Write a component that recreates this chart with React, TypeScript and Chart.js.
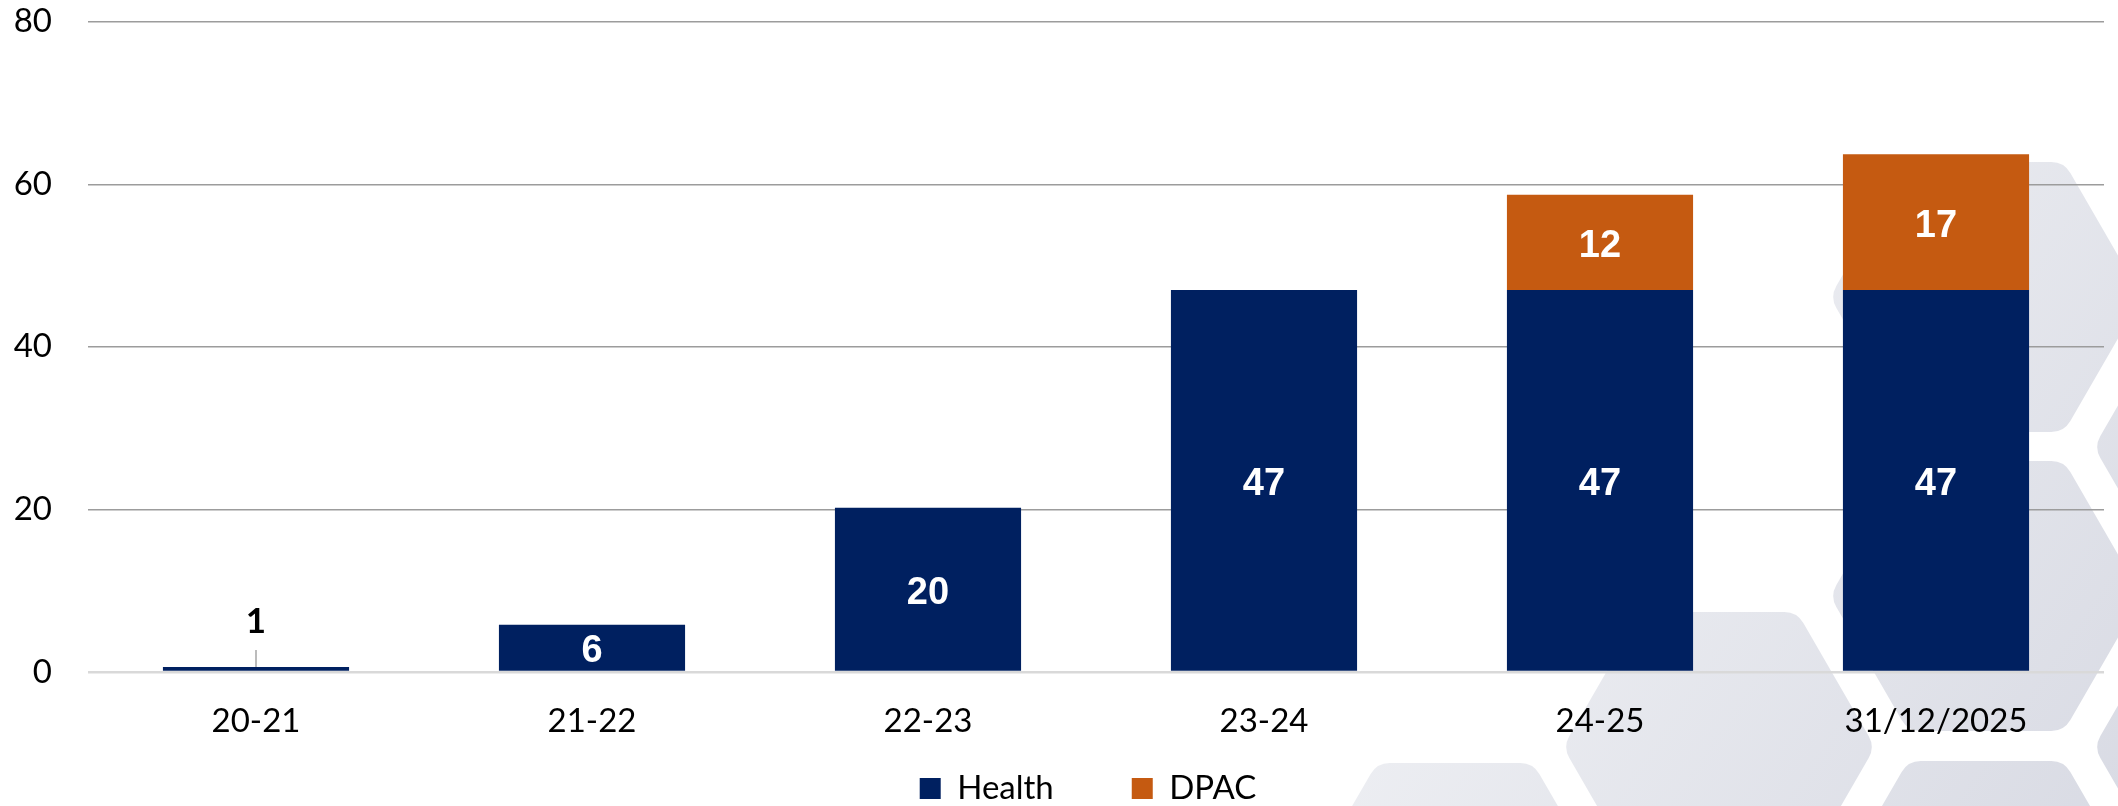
import React, { useEffect, useRef } from "react";
import { Chart, registerables } from "chart.js";

Chart.register(...registerables);

const categories = ["20-21", "21-22", "22-23", "23-24", "24-25", "31/12/2025"];
const healthValues = [0.6, 5.8, 20.2, 47, 47, 47];
const dpacValues = [null, null, null, null, 11.7, 16.7];
const seriesNames = ["Health", "DPAC"];
const seriesColors = ["#002060", "#C55A11"];
const yTickValues = [0, 20, 40, 60, 80];

// decorative background hexagons: [centerX, centerY]
const hexCenters = [
  [1986, 297],
  [1986, 596],
  [1986, 896],
  [2250, 447],
  [2250, 747],
  [1719, 747],
  [1455, 898],
];

function hexPath(ctx: CanvasRenderingContext2D, cx: number, cy: number, R: number, r: number) {
  const hh = (R * Math.sqrt(3)) / 2;
  const pts = [
    [cx + R, cy],
    [cx + R / 2, cy + hh],
    [cx - R / 2, cy + hh],
    [cx - R, cy],
    [cx - R / 2, cy - hh],
    [cx + R / 2, cy - hh],
  ];
  ctx.beginPath();
  const start = [(pts[5][0] + pts[0][0]) / 2, (pts[5][1] + pts[0][1]) / 2];
  ctx.moveTo(start[0], start[1]);
  for (let i = 0; i < 6; i++) {
    const p = pts[i];
    const n = pts[(i + 1) % 6];
    ctx.arcTo(p[0], p[1], n[0], n[1], r);
  }
  ctx.closePath();
}

const backgroundPlugin = {
  id: "hexBackground",
  beforeDraw(chart: any) {
    const ctx = chart.ctx as CanvasRenderingContext2D;
    ctx.save();
    const g = ctx.createLinearGradient(1300, 250, 2118, 806);
    g.addColorStop(0, "#f6f7f9");
    g.addColorStop(1, "#d9dbe4");
    ctx.fillStyle = g;
    hexCenters.forEach(([cx, cy]) => {
      hexPath(ctx, cx, cy, 156, 22);
      ctx.fill();
    });
    ctx.restore();
  },
};

// place the bottom legend row where the reference has it
const legendPlacePlugin = {
  id: "legendPlace",
  afterLayout(chart: any) {
    const lg = chart.legend;
    if (!lg) return;
    lg.top = 694;
    lg.bottom = 806;
    lg.height = 112;
    lg.left = 72;
    lg.right = 2104;
    lg.width = 2104 - 72;
  },
};

const labelPlugin = {
  id: "barLabels",
  afterDatasetsDraw(chart: any) {
    const ctx = chart.ctx as CanvasRenderingContext2D;
    ctx.save();
    chart.data.datasets.forEach((ds: any, di: number) => {
      const meta = chart.getDatasetMeta(di);
      meta.data.forEach((el: any, i: number) => {
        const v = ds.data[i];
        if (v == null || v === 0) return;
        const { x, y, base } = el.getProps(["x", "y", "base"], true);
        const h = base - y;
        const txt = String(Math.round(v));
        ctx.textAlign = "center";
        ctx.textBaseline = "middle";
        if (h < 20) {
          ctx.strokeStyle = "#a6a6a6";
          ctx.lineWidth = 1.5;
          ctx.beginPath();
          ctx.moveTo(x, y);
          ctx.lineTo(x, y - 17);
          ctx.stroke();
          ctx.fillStyle = "#000000";
          ctx.font = "bold 35px Lato";
          ctx.fillText(txt, x, y - 45);
        } else {
          ctx.fillStyle = "#ffffff";
          ctx.font = "bold 38px 'Liberation Sans'";
          ctx.fillText(txt, x, (y + base) / 2 + 4);
        }
      });
    });
    ctx.restore();
  },
};

export default function App() {
  const ref = useRef<HTMLCanvasElement | null>(null);

  useEffect(() => {
    if (!ref.current) return;
    const chart = new Chart(ref.current, {
      type: "bar",
      data: {
        labels: categories,
        datasets: [
          {
            label: seriesNames[0],
            data: healthValues,
            backgroundColor: seriesColors[0],
            borderWidth: 0,
            barPercentage: 0.554,
            categoryPercentage: 1,
          },
          {
            label: seriesNames[1],
            data: dpacValues as any,
            backgroundColor: seriesColors[1],
            borderWidth: 0,
            barPercentage: 0.554,
            categoryPercentage: 1,
          },
        ],
      },
      options: {
        responsive: false,
        animation: false,
        devicePixelRatio: 1,
        layout: { autoPadding: false, padding: { top: 21.7, right: 14, bottom: 4, left: 0 } },
        plugins: {
          tooltip: { enabled: false },
          legend: {
            position: "bottom",
            maxHeight: 56,
            labels: {
              boxWidth: 21,
              boxHeight: 21,
              padding: 78,
              color: "#000000",
              font: { family: "Lato", size: 33 },
            },
          },
        },
        scales: {
          x: {
            stacked: true,
            afterFit(scale: any) {
              scale.height = 74;
            },
            grid: { display: false },
            border: { display: false },
            ticks: {
              color: "#000000",
              font: { family: "Lato", size: 33 },
              padding: 21.5,
              maxRotation: 0,
            },
          },
          y: {
            stacked: true,
            min: 0,
            max: 80,
            afterFit(scale: any) {
              scale.width = 88;
              scale.paddingTop = 0;
              scale.paddingBottom = 0;
            },
            afterBuildTicks(scale: any) {
              scale.ticks = yTickValues.map((v) => ({ value: v }));
            },
            border: { display: false },
            grid: {
              color: (c: any) => (c.tick && c.tick.value === 0 ? "#d9d9d9" : "#9c9c9c"),
              lineWidth: (c: any) => (c.tick && c.tick.value === 0 ? 2.5 : 1.5),
              drawTicks: false,
            },
            ticks: {
              color: "#000000",
              font: { family: "Lato", size: 33 },
              padding: 36,
              crossAlign: "near",
            },
          },
        },
      },
      plugins: [backgroundPlugin, legendPlacePlugin, labelPlugin],
    });
    return () => chart.destroy();
  }, []);

  return (
    <div style={{ position: "absolute", left: 0, top: 0, width: 2118, height: 806, background: "#ffffff" }}>
      <canvas ref={ref} width={2118} height={806} />
    </div>
  );
}
